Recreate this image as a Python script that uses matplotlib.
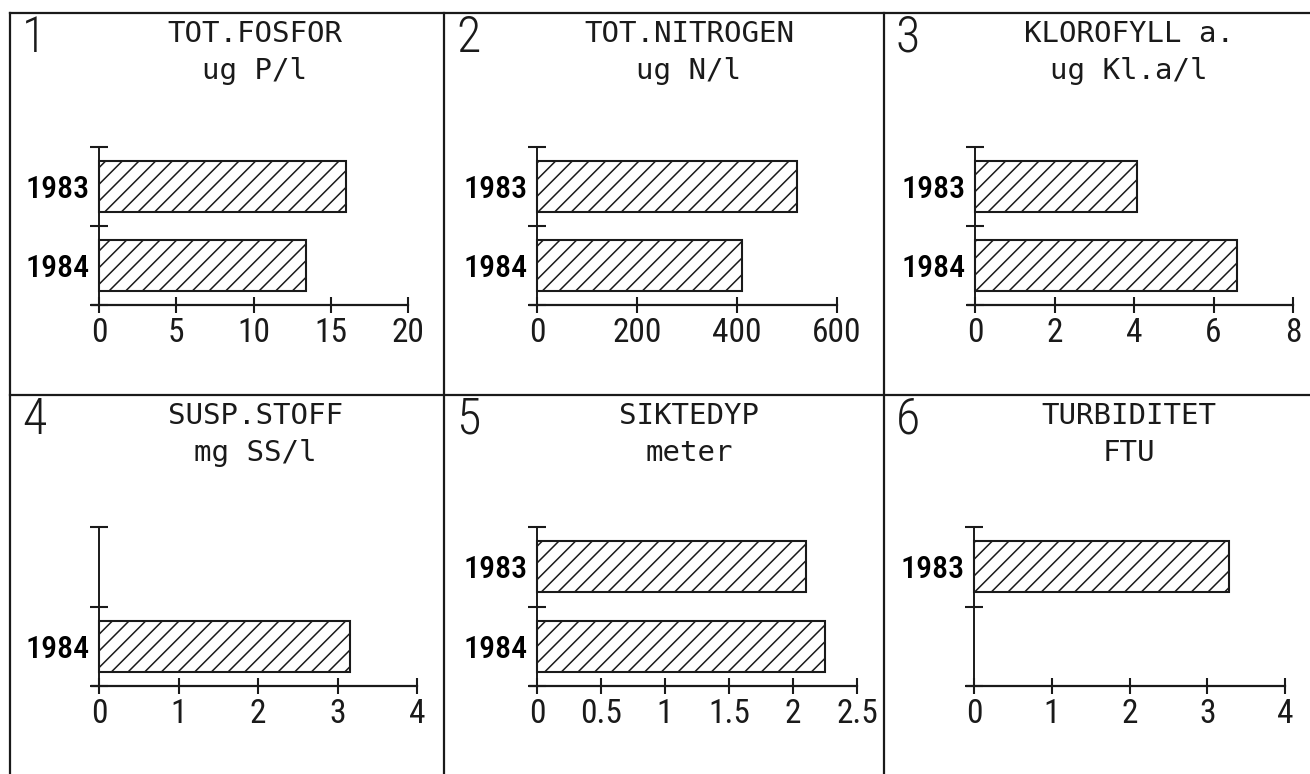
import matplotlib
matplotlib.use("Agg")
import matplotlib.pyplot as plt
import numpy as np
from matplotlib import font_manager
from matplotlib.lines import Line2D

# ---------------- data ----------------
years = ["1983", "1984"]
panel_numbers = ["1", "2", "3", "4", "5", "6"]
titles = ["TOT.FOSFOR", "TOT.NITROGEN", "KLOROFYLL a.", "SUSP.STOFF", "SIKTEDYP", "TURBIDITET"]
units = ["ug P/l", "ug N/l", "ug Kl.a/l", "mg SS/l", "meter", "FTU"]
fosfor = [16.0, 13.4]
nitrogen = [520, 410]
klorofyll = [4.07, 6.58]
susp_stoff = [np.nan, 3.16]
siktedyp = [2.10, 2.25]
turbiditet = [3.28, np.nan]
series = [fosfor, nitrogen, klorofyll, susp_stoff, siktedyp, turbiditet]
xticks = [[0, 5, 10, 15, 20], [0, 200, 400, 600], [0, 2, 4, 6, 8],
          [0, 1, 2, 3, 4], [0, 0.5, 1, 1.5, 2, 2.5], [0, 1, 2, 3, 4]]

# ---------------- layout (pixels) ----------------
W, H = 1310, 774
origin_x = [99, 537, 975, 99, 537, 974]
end_x = [408, 837, 1293, 417, 857, 1285]
top_y = [147, 147, 147, 527, 527, 527]
bottom_y = [305, 305, 305, 686, 686, 686]
panel_left = [10, 444, 884, 10, 444, 884]
panel_top = [13, 13, 13, 395, 395, 395]

names = {f.name for f in font_manager.fontManager.ttflist}
narrow = None
for cand in ["Liberation Sans Narrow", "Roboto Condensed", "Open Sans Condensed"]:
    if cand in names:
        narrow = cand
        break
mono = "DejaVu Sans Mono"
if narrow is None:
    num_family = [mono]
    tick_fs, year_fs, pn_fs = 20, 19, 32
else:
    num_family = [narrow, "DejaVu Sans"]
    tick_fs, year_fs, pn_fs = 24, 23, 36

plt.rcParams["hatch.linewidth"] = 1.1
fig = plt.figure(figsize=(W / 100, H / 100), dpi=100)
fig.patch.set_facecolor("white")

def fx(x):
    return x / W

def fy(y):
    return 1 - y / H

ink = "#1a1a1a"

# frame lines
for y in [13, 395]:
    fig.add_artist(Line2D([fx(10), fx(1310)], [fy(y), fy(y)], color=ink, lw=1.6))
for x in [10, 444, 884]:
    fig.add_artist(Line2D([fx(x), fx(x)], [fy(13), fy(774)], color=ink, lw=1.6))

for i in range(6):
    vals = series[i]
    xmax = xticks[i][-1]
    scale = (end_x[i] - origin_x[i]) / xmax
    ext = 7
    ax = fig.add_axes([fx(origin_x[i] - ext), fy(bottom_y[i]),
                       (end_x[i] - origin_x[i] + ext) / W,
                       (bottom_y[i] - top_y[i]) / H])
    ax.set_xlim(-ext / scale, xmax)
    ax.set_ylim(2, 0)
    ax.patch.set_alpha(0)
    pos = [k + 0.5 for k in range(len(years)) if not np.isnan(vals[k])]
    v = [vals[k] for k in range(len(years)) if not np.isnan(vals[k])]
    labs = [years[k] for k in range(len(years)) if not np.isnan(vals[k])]
    ax.barh(pos, v, height=0.64, color="white", edgecolor=ink, hatch="//", linewidth=1.5)

    for s in ["top", "right"]:
        ax.spines[s].set_visible(False)
    ax.spines["left"].set_position(("data", 0))
    ax.spines["left"].set_linewidth(1.4)
    ax.spines["bottom"].set_linewidth(1.6)
    ax.spines["left"].set_color(ink)
    ax.spines["bottom"].set_color(ink)

    ax.set_yticks([0, 1, 2])
    ax.set_yticklabels([])
    ax.tick_params(axis="y", which="major", direction="inout", length=13, width=1.5, color=ink)
    ax.set_yticks(pos, minor=True)
    ax.set_yticklabels(labs, minor=True, fontsize=year_fs, family=num_family,
                       fontweight="medium", color="black")
    ax.tick_params(axis="y", which="minor", length=0, pad=7)

    ax.set_xticks(xticks[i])
    ax.set_xticklabels(["%g" % t for t in xticks[i]], fontsize=tick_fs,
                       family=num_family, color=ink)
    ax.tick_params(axis="x", direction="inout", length=11, width=1.5, pad=3, color=ink)

    # panel number and title
    pl, pt = panel_left[i], panel_top[i]
    fig.text(fx(pl + 12), fy(pt + 1), panel_numbers[i], fontsize=pn_fs,
             family=num_family, fontweight="light", ha="left", va="top", color=ink)
    fig.text(fx(pl + 245), fy(pt + 29), titles[i], fontsize=21, family=mono,
             ha="center", va="baseline", color=ink)
    fig.text(fx(pl + 245), fy(pt + 66), units[i], fontsize=21, family=mono,
             ha="center", va="baseline", color=ink)

fig.savefig("out.png", dpi=100, facecolor="white")
